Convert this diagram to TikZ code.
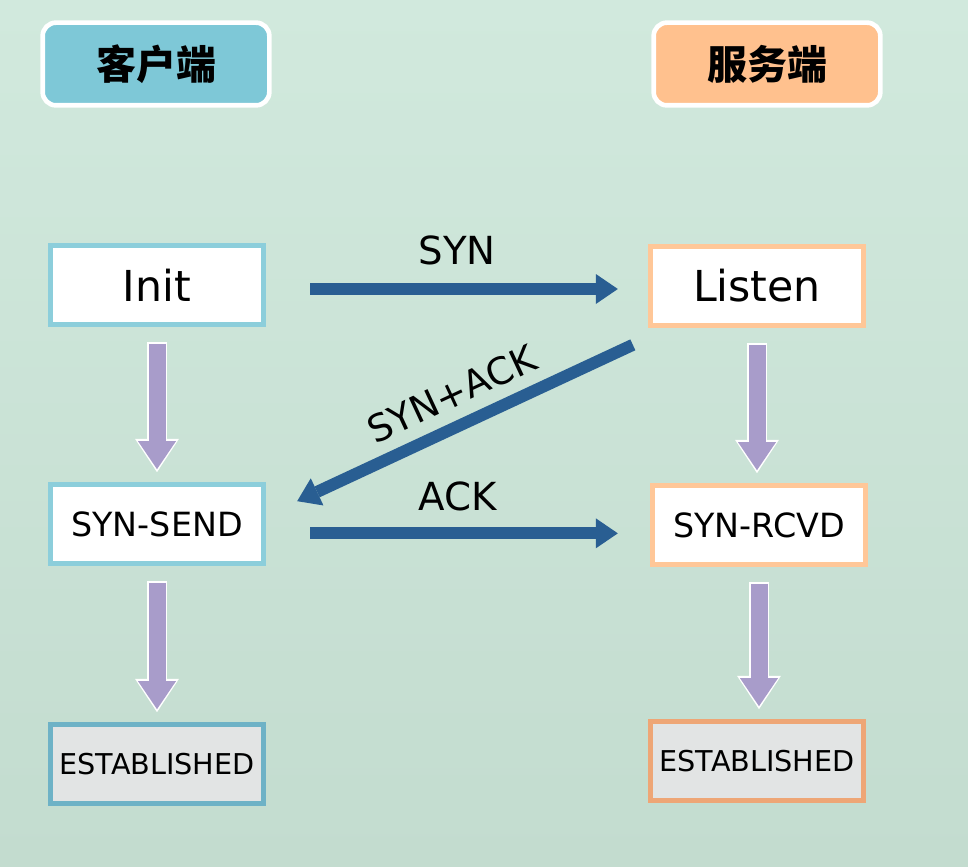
\documentclass[tikz,border=0pt]{standalone}
\usepackage{fontspec}
\setmainfont{DejaVu Sans}
\newfontfamily\cjk{Noto Sans CJK SC}
\usetikzlibrary{calc,arrows.meta,positioning}
\definecolor{bgtop}{RGB}{209,233,221}
\definecolor{bgbot}{RGB}{195,220,207}
\definecolor{cltfill}{RGB}{126,200,215}
\definecolor{srvfill}{RGB}{255,193,142}
\definecolor{cltline}{RGB}{140,206,219}
\definecolor{srvline}{RGB}{255,199,152}
\definecolor{cltdark}{RGB}{110,178,198}
\definecolor{srvdark}{RGB}{238,166,118}
\definecolor{estfill}{RGB}{226,228,228}
\definecolor{msgblue}{RGB}{41,94,146}
\definecolor{downpurple}{RGB}{168,156,202}
\newcommand*\fsz[1]{\fontsize{#1}{#1}\selectfont}

\begin{document}
\begin{tikzpicture}[x=0.75pt,y=-0.75pt,
  hdr/.style={rounded corners=10pt,draw=white,line width=3.5pt,minimum width=170pt,minimum height=62pt,font={\cjk\bfseries\fsz{30pt}}},
  stbox/.style={draw,line width=3.75pt,fill=white,minimum width=160pt,minimum height=59pt},
  msg/.style={draw=msgblue,line width=9pt,-{Triangle[width=22.5pt,length=16.5pt,line width=0pt]}},
  lbl/.style={inner sep=0pt,font={\fsz{29pt}}},
  downback/.style={draw=white,line width=15.5pt,shorten <=11.25pt,shorten >=7.5pt,-{Triangle[width=33pt,length=25pt,line width=0pt]}},
  down/.style={draw=downpurple,line width=12.75pt,shorten <=12.75pt,shorten >=9.75pt,-{Triangle[width=28.5pt,length=21pt,line width=0pt]}}]
% background
\shade[top color=bgtop,bottom color=bgbot] (0,0) rectangle (968,867);
\useasboundingbox (0,0) rectangle (968,867);

% headers
\node[hdr,fill=cltfill] (client) at (156,64) {客户端};
\node[hdr,fill=srvfill] (server) at (767,64) {服务端};

% states
\node[stbox,draw=cltline,font={\fsz{32pt}}] (init) at (157,285) {Init};
\node[stbox,draw=srvline,font={\fsz{32pt}}] (listen) at (757,286) {Listen};
\node[stbox,draw=cltline,font={\fsz{25pt}}] (synsend) at (157,524) {SYN-SEND};
\node[stbox,draw=srvline,font={\fsz{25pt}}] (synrcvd) at (759,525) {SYN-RCVD};
\node[stbox,draw=cltdark,fill=estfill,font={\fsz{21.5pt}}] (estc) at (157,764) {ESTABLISHED};
\node[stbox,draw=srvdark,fill=estfill,font={\fsz{21.5pt}}] (ests) at (757,761) {ESTABLISHED};

% state changes
\foreach \a/\b in {init/synsend,synsend/estc,listen/synrcvd,synrcvd/ests}{
  \draw[downback] (\a.south) -- (\a.south |- \b.north);
  \draw[down] (\a.south) -- (\a.south |- \b.north);
}

%%%%%
\draw[msg,shorten <=33pt,shorten >=22.5pt] ([yshift=-3pt]init.east) -- node[lbl,above=13.5pt] {SYN} ([yshift=-3pt]init.east -| listen.west);
\draw[msg] ($(listen.south west)+(-15,17)$) -- node[lbl,sloped,above=9pt,font={\fsz{28pt}}] {SYN+ACK} ($(synsend.north east)+(31,19)$);
\draw[msg,shorten <=33pt,shorten >=24pt] ([yshift=-7pt]synsend.east) -- node[lbl,above=12pt] {ACK} ([yshift=-7pt]synsend.east -| synrcvd.west);

\end{tikzpicture}
\end{document}
